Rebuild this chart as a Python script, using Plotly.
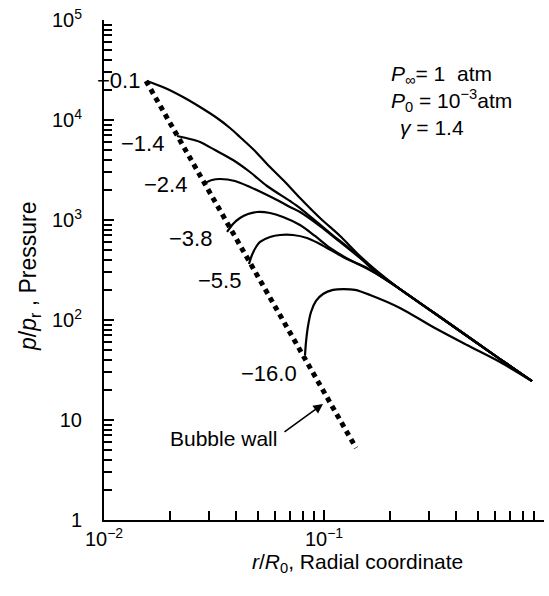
import plotly.graph_objects as go

FONT = "Liberation Sans, Arial, Helvetica, sans-serif"

# ---- data (r/R0, p/pr) ----
curve_labels = ["−0.1", "−1.4", "−2.4", "−3.8", "−5.5", "−16.0"]

r_01 = [0.01568, 0.01894, 0.02286, 0.02732, 0.03264, 0.03738, 0.04151, 0.04857, 0.05508,
        0.06650, 0.07780, 0.09590, 0.1183, 0.1457, 0.1742, 0.2215, 0.3738, 0.6310, 0.8820]
p_01 = [24550, 20890, 16980, 13490, 10470, 8318, 6761, 4898, 3631,
        2399, 1660, 1047, 692, 437, 309, 204, 91.2, 40.7, 24.5]

r_14 = [0.02147, 0.02460, 0.02732, 0.03196, 0.03858, 0.04609, 0.05508, 0.07006, 0.07780,
        0.1065, 0.1313, 0.1742, 0.2215, 0.3738, 0.6310, 0.8820]
p_14 = [6918, 6457, 6026, 5012, 3981, 3020, 2188, 1549, 1318,
        741, 513, 302, 204, 91.2, 40.7, 24.5]

r_24 = [0.02878, 0.03097, 0.03368, 0.03939, 0.04609, 0.05395, 0.06114, 0.07006, 0.07780,
        0.09590, 0.1183, 0.1457, 0.1742, 0.2215, 0.3738, 0.6310, 0.8820]
p_24 = [2344, 2512, 2570, 2455, 2138, 1820, 1585, 1349, 1202,
        871, 603, 417, 295, 204, 91.2, 40.7, 24.5]

r_38 = [0.03624, 0.03858, 0.04151, 0.04514, 0.04961, 0.05684, 0.06512, 0.07780, 0.09104,
        0.1065, 0.1313, 0.1569, 0.1742, 0.2215, 0.3738, 0.6310, 0.8820]
p_38 = [759, 912, 1047, 1148, 1202, 1175, 1072, 891, 692,
        525, 398, 331, 288, 204, 91.2, 40.7, 24.5]

r_55 = [0.04561, 0.04706, 0.04909, 0.05120, 0.05684, 0.06310, 0.07229, 0.08372, 0.09391,
        0.1032, 0.1246, 0.1457, 0.1742, 0.2215, 0.3738, 0.6310, 0.8820]
p_55 = [363, 447, 537, 603, 676, 708, 708, 661, 589,
        525, 417, 355, 288, 204, 91.2, 40.7, 24.5]

r_160 = [0.08198, 0.08285, 0.08460, 0.08731, 0.09198, 0.09896, 0.1099, 0.1221, 0.1384,
         0.1619, 0.2215, 0.3130, 0.4467, 0.6310, 0.8820]
p_160 = [44.7, 60.3, 87.1, 120.2, 154.9, 182.0, 200, 204, 200,
         178, 132, 85.1, 56.2, 38.0, 24.5]

r_wall = [0.01552, 0.1398]
p_wall = [24550, 5.25]

x_major = [0.01, 0.1, 1]
x_major_text = ["10<sup>−2</sup>", "10<sup>−1</sup>", "1"]
y_major = [1, 10, 100, 1000, 10000, 100000]
y_major_text = ["1", "10", "10<sup>2</sup>", "10<sup>3</sup>", "10<sup>4</sup>", "10<sup>5</sup>"]
x_minor = [k * 10.0 ** e for e in (-2, -1) for k in range(2, 10)]
y_minor = [k * 10.0 ** e for e in range(0, 5) for k in range(2, 10)]

fig = go.Figure()

for rr, pp in [(r_01, p_01), (r_14, p_14), (r_24, p_24), (r_38, p_38), (r_55, p_55), (r_160, p_160)]:
    fig.add_trace(go.Scatter(x=rr, y=pp, mode="lines",
                             line=dict(color="black", width=2.2, shape="spline", smoothing=0.8),
                             showlegend=False, hoverinfo="skip"))

fig.add_trace(go.Scatter(x=r_wall, y=p_wall, mode="lines",
                         line=dict(color="black", width=5, dash="5px,4.6px"),
                         showlegend=False, hoverinfo="skip"))

L, T, W, H = 104, 20, 440, 500


def px(x):
    return (x - L) / W


def py(y):
    return (T + H - y) / H


ann = []
label_pos = [(142, 80), (166, 143), (189, 185), (214, 239), (243, 280), (299, 373)]
for txt, (xx, yy) in zip(curve_labels, label_pos):
    ann.append(dict(text=txt, x=px(xx), y=py(yy), xref="paper", yref="paper",
                    xanchor="right", yanchor="middle", showarrow=False,
                    font=dict(size=22, color="black", family=FONT)))

ann.append(dict(text="Bubble wall", x=px(279), y=py(438), xref="paper", yref="paper",
                xanchor="right", yanchor="middle", showarrow=False,
                font=dict(size=21, color="black", family=FONT)))
ann.append(dict(text="", x=px(323), y=py(404), xref="paper", yref="paper",
                showarrow=True, ax=-40, ay=29, arrowhead=2, arrowsize=1.2,
                arrowwidth=1.6, arrowcolor="black", standoff=0))

ann.append(dict(text="<i>P</i><sub>∞</sub>= 1  atm", x=px(389), y=py(75), xref="paper", yref="paper",
                xanchor="left", yanchor="middle", showarrow=False,
                font=dict(size=21, color="black", family=FONT)))
ann.append(dict(text="<i>P</i><sub>0</sub> = 10<sup>−3</sup>atm", x=px(389), y=py(100), xref="paper", yref="paper",
                xanchor="left", yanchor="middle", showarrow=False,
                font=dict(size=21, color="black", family=FONT)))
ann.append(dict(text="<i>γ</i> = 1.4", x=px(398), y=py(128), xref="paper", yref="paper",
                xanchor="left", yanchor="middle", showarrow=False,
                font=dict(size=21, color="black", family=FONT)))

ann.append(dict(text="<i>r</i>/<i>R</i><sub>0</sub>, Radial coordinate", x=px(357), y=py(563),
                xref="paper", yref="paper", xanchor="center", yanchor="middle", showarrow=False,
                font=dict(size=21, color="black", family=FONT)))
ann.append(dict(text="<i>p</i>/<i>p</i><sub>r</sub> , Pressure", x=px(29), y=py(276),
                xref="paper", yref="paper", xanchor="center", yanchor="middle", showarrow=False,
                textangle=-90, font=dict(size=23, color="black", family=FONT)))

fig.update_layout(
    width=549, height=596,
    margin=dict(l=L, r=549 - L - W, t=T, b=596 - T - H),
    paper_bgcolor="white", plot_bgcolor="white",
    font=dict(family=FONT, size=20, color="black"),
    annotations=ann,
    xaxis=dict(type="log", range=[-2, 0], showgrid=False, zeroline=False,
               showline=True, linecolor="black", linewidth=2,
               ticks="inside", ticklen=10, tickwidth=1.6, tickcolor="black",
               tickmode="array", tickvals=x_major, ticktext=x_major_text,
               tickfont=dict(size=20, family=FONT), ticklabelstandoff=0,
               minor=dict(tickmode="array", tickvals=x_minor, ticks="inside",
                          ticklen=9, tickwidth=1.6, tickcolor="black", showgrid=False)),
    yaxis=dict(type="log", range=[0, 5], showgrid=False, zeroline=False,
               showline=True, linecolor="black", linewidth=2,
               ticks="inside", ticklen=10, tickwidth=1.6, tickcolor="black",
               tickmode="array", tickvals=y_major, ticktext=y_major_text,
               tickfont=dict(size=20, family=FONT), ticklabelstandoff=16,
               minor=dict(tickmode="array", tickvals=y_minor, ticks="inside",
                          ticklen=8, tickwidth=1.6, tickcolor="black", showgrid=False)),
)

fig.write_html("out.html")
